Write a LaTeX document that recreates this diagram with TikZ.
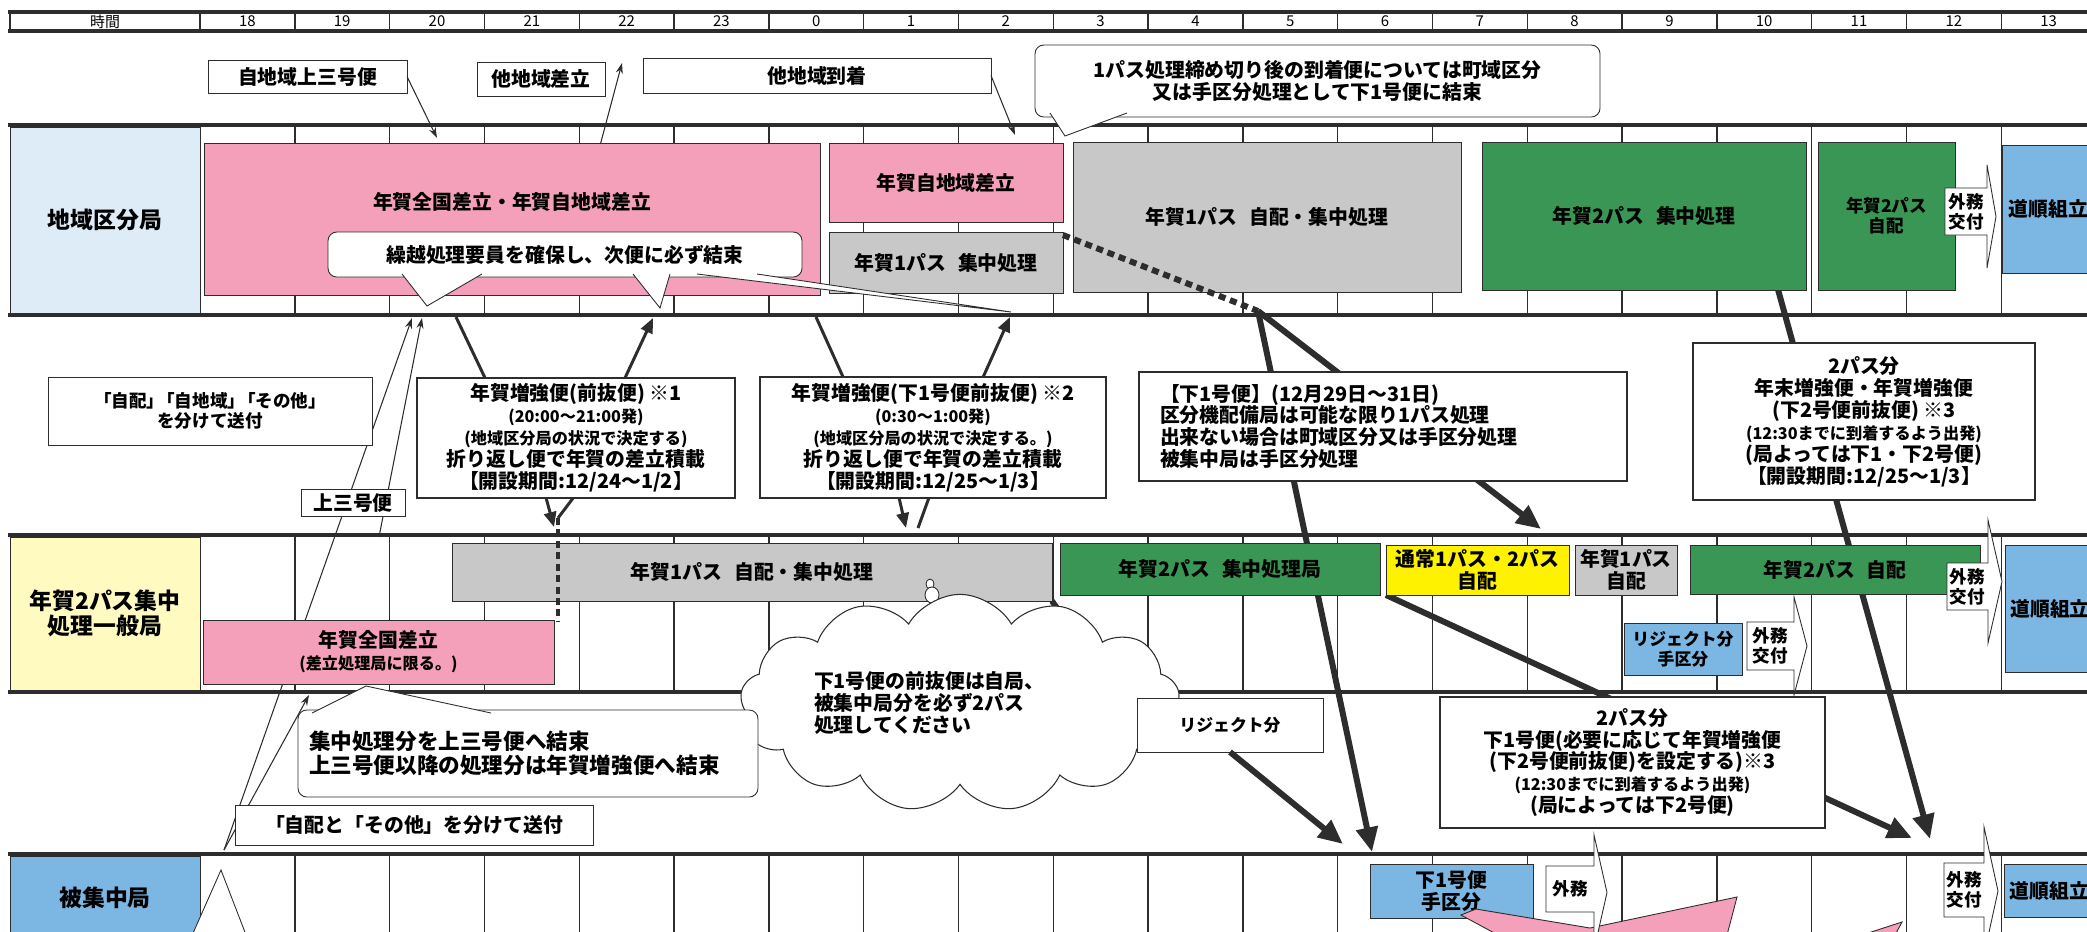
\documentclass[tikz,border=0pt]{standalone}
\usepackage{fontspec}
\setmainfont{Noto Sans CJK JP}
\usetikzlibrary{arrows.meta,calc,shapes.symbols}

\pgfdeclarelayer{back}
\pgfdeclarelayer{mid}
\pgfsetlayers{back,mid,main}

\definecolor{cPink}{RGB}{244,160,186}
\definecolor{cGray}{RGB}{200,200,200}
\definecolor{cGreen}{RGB}{58,150,84}
\definecolor{cYel}{RGB}{255,242,0}
\definecolor{cBlueL}{RGB}{222,236,248}
\definecolor{cYelL}{RGB}{255,250,192}
\definecolor{cBlue}{RGB}{124,182,226}
\definecolor{cInk}{RGB}{45,45,45}

\newcommand\szA{\fontsize{11.3}{12.5}\selectfont\bfseries}
\newcommand\szB{\fontsize{9.2}{10.5}\selectfont}
\newcommand\szC{\fontsize{13}{14.5}\selectfont\bfseries}
\newcommand\szH{\fontsize{8.5}{10}\selectfont}
\newcommand\szT{\fontsize{10}{11.5}\selectfont\bfseries}
\newcommand\szR{\fontsize{9.6}{11.5}\selectfont\bfseries}
\newcommand\szL{\fontsize{12.3}{14}\selectfont\bfseries}

% box by corners: style, name, x1, y1, x2, y2, text
\newcommand\blk[7]{\node[#1, minimum width={(#5-#3)*0.02cm}, minimum height={(#6-#4)*0.02cm}] (#2) at ({(#3+#5)/2},{(#4+#6)/2}) {#7};}

% white tag arrow: name, x1, y1, x2, y2, tip x, head top, head bottom, text
\newcommand\tagarrow[9]{%
  \filldraw[fill=white, draw=cInk, line width=0.5pt] (#2,#3) -- (#4,#3) -- (#4,#7) -- (#6,{(#7+#8)/2}) -- (#4,#8) -- (#4,#5) -- (#2,#5) -- cycle;
  \node[font=\szT, align=center, inner sep=0pt] (#1) at ({(#2+#4)/2},{(#3+#5)/2}) {#9};}

\begin{document}
\begin{tikzpicture}[x=0.02cm, y=-0.02cm, font=\szA,
    boxbase/.style={draw=cInk, line width=0.5pt, align=center, inner sep=1pt, outer sep=0pt},
    pk/.style={boxbase, fill=cPink},
    gy/.style={boxbase, fill=cGray},
    gr/.style={boxbase, fill=cGreen},
    yl/.style={boxbase, fill=cYel},
    bl/.style={boxbase, fill=cBlue},
    wbox/.style={boxbase, fill=white},
    fbox/.style={boxbase, fill=white, line width=1.4pt},
    cbox/.style={boxbase, fill=white, rounded corners=5pt},
    lab/.style={boxbase, font=\szC},
    hcell/.style={boxbase, draw=none, font=\szH},
    colline/.style={line width=0.8pt, draw=cInk},
    rowline/.style={line width=2pt, draw=cInk},
    tail/.style={fill=white, draw=cInk, line width=0.5pt},
    thinarrow/.style={line width=0.6pt, draw=cInk, -{Stealth[length=6pt,width=4pt]}},
    midline/.style={line width=1.7pt, draw=cInk},
    midarrow/.style={midline, -{Triangle[length=8.5pt,width=7pt]}},
    fatline/.style={line width=3.4pt, draw=cInk},
    fatarrow/.style={fatline, -{Triangle[length=14pt,width=12pt]}}]
\useasboundingbox (0,0) rectangle (2087,931);

\begin{pgfonlayer}{back}
\fill[white] (0,0) rectangle (2087,931);
\foreach \i in {0,...,19} {
  \pgfmathsetmacro\cx{200+94.8*\i}
  \draw[colline] (\cx,12) -- (\cx,31) (\cx,125) -- (\cx,315) (\cx,535) -- (\cx,692) (\cx,854) -- (\cx,940);
}
\draw[colline] (10,12) -- (10,31);
\foreach \y in {12,31,125,315,535,692,854}
  \draw[rowline] (8,\y) -- (2090,\y);
\end{pgfonlayer}

% header
\blk{hcell}{jikan}{10}{12}{200}{31}{時間}
\foreach \h [count=\i from 0] in {18,19,20,21,22,23,0,1,2,3,4,5,6,7,8,9,10,11,12,13}
  \node[hcell] (h\i) at ({247.4+94.8*\i},21.5) {\h};

% row labels
\blk{lab, fill=cBlueL}{r1}{10}{127}{200}{313}{地域区分局}
\blk{lab, fill=cYelL}{r2}{10}{537}{200}{690}{年賀2パス集中\\処理一般局}
\blk{lab, fill=cBlue}{r3}{10}{856}{200}{940}{被集中局}

% 地域区分局
\blk{pk}{zk}{204}{143}{820}{295}{}
\node (zkt) at (512,202) {年賀全国差立・年賀自地域差立};
\blk{pk}{jc}{829}{143}{1063}{222}{年賀自地域差立}
\blk{gy}{j1a}{829}{232}{1063}{293}{年賀1パス\hspace{.6em}集中処理}
\blk{gy}{j1b}{1073}{142}{1461}{292}{年賀1パス\hspace{.6em}自配・集中処理}
\blk{gr}{j2a}{1482}{142}{1806}{290}{年賀2パス\hspace{.6em}集中処理}
\blk{gr, font=\szT}{j2b}{1818}{142}{1955}{290}{年賀2パス\\自配}
\tagarrow{g1}{1945}{188}{1987}{235}{1996}{165}{268}{外務\\交付}
\blk{bl}{dj1}{2002}{145}{2095}{273}{道順組立}

% notes above
\blk{wbox}{jj}{208}{60}{407}{93}{自地域上三号便}
\blk{wbox}{td}{477}{62}{605}{96}{他地域差立}
\blk{wbox}{tc}{643}{58}{991}{93}{他地域到着}
\blk{cbox}{sm}{1035}{45}{1600}{117}{1パス処理締め切り後の到着便については町域区分\\又は手区分処理として下1号便に結束}
\filldraw[tail] (1050,113) -- (1065,136) -- (1127,113);
\blk{cbox}{kk}{328}{232}{802}{277}{繰越処理要員を確保し、次便に必ず結束}
\filldraw[tail] (402,274) -- (427,306) -- (482,274);
\filldraw[tail] (633,274) -- (660,308) -- (670,274);
\filldraw[tail] (697,274) -- (1011,312) -- (757,274);

% between rows
\blk{wbox, font=\szT}{bs}{48}{377}{372}{445}{「自配」\hspace{-.4em}「自地域」\hspace{-.4em}「その他」\\を分けて送付}
\blk{wbox}{k3}{301}{489}{405}{516}{上三号便}
\blk{fbox}{z1}{417}{378}{735}{498}{年賀増強便(前抜便) ※1\\{\szB (20:00～21:00発)}\\{\szB (地域区分局の状況で決定する)}\\折り返し便で年賀の差立積載\\【開設期間:12/24～1/2】}
\blk{fbox}{z2}{760}{377}{1106}{498}{年賀増強便(下1号便前抜便) ※2\\{\szB (0:30～1:00発)}\\{\szB (地域区分局の状況で決定する。)}\\折り返し便で年賀の差立積載\\【開設期間:12/25～1/3】}
\blk{fbox, text width=8.92cm, align=left}{s1}{1139}{372}{1627}{481}{【下1号便】(12月29日～31日)\\区分機配備局は可能な限り1パス処理\\出来ない場合は町域区分又は手区分処理\\被集中局は手区分処理}
\blk{fbox}{p2a}{1693}{343}{2035}{500}{2パス分\\年末増強便・年賀増強便\\(下2号便前抜便) ※3\\{\szB (12:30までに到着するよう出発)}\\(局よっては下1・下2号便)\\【開設期間:12/25～1/3】}

% 年賀2パス集中処理一般局
\blk{pk}{zk2}{203}{620}{554}{684}{年賀全国差立\\{\szB (差立処理局に限る。)}}
\blk{gy}{j1c}{452}{543}{1052}{601}{年賀1パス\hspace{.6em}自配・集中処理}
\blk{gr}{j2c}{1060}{543}{1380}{595}{年賀2パス\hspace{.6em}集中処理局}
\blk{yl}{ts}{1386}{545}{1569}{595}{通常1パス・2パス\\自配}
\blk{gy}{j1d}{1575}{545}{1677}{595}{年賀1パス\\自配}
\blk{gr}{j2d}{1690}{545}{1980}{594}{年賀2パス\hspace{.6em}自配}
\tagarrow{g2}{1947}{563}{1988}{610}{2002}{520}{643}{外務\\交付}
\blk{bl}{dj2}{2005}{545}{2095}{672}{道順組立}
\blk{bl, font=\szR}{rj}{1624}{623}{1742}{675}{リジェクト分\\手区分}
\tagarrow{g3}{1747}{622}{1794}{670}{1807}{597}{695}{外務\\交付}

% below row 2
\filldraw[fill=white, draw=cInk, line width=0.5pt] (930,584) ellipse [x radius=4, y radius=5];
\filldraw[fill=white, draw=cInk, line width=0.5pt] (932,595) ellipse [x radius=7, y radius=8];
\filldraw[fill=white, draw=cInk, line width=0.5pt] (937,613) ellipse [x radius=10, y radius=10];
\node[cloud, cloud puffs=13, cloud puff arc=120, aspect=2.64, draw=cInk, fill=white, line width=0.6pt,
  minimum width=8.44cm, minimum height=3.2cm, text width=5.84cm, align=left] (kumo) at (960,703)
  {下1号便の前抜便は自局、\\被集中局分を必ず2パス\\処理してください};
\blk{wbox, font=\szR}{rjb}{1137}{698}{1323}{752}{リジェクト分}
\blk{cbox, font=\szL, text width=8.76cm, align=left}{sk}{298}{710}{758}{797}{集中処理分を上三号便へ結束\\上三号便以降の処理分は年賀増強便へ結束}
\filldraw[tail] (312,713) -- (366,686) -- (491,713);
\blk{wbox}{bs2}{235}{805}{593}{845}{「自配と「その他」を分けて送付}
\blk{fbox}{p2b}{1440}{697}{1825}{828}{2パス分\\下1号便(必要に応じて年賀増強便\\(下2号便前抜便)を設定する)※3\\{\szB (12:30までに到着するよう出発)}\\(局によっては下2号便)}

% 被集中局
\filldraw[tail] (190,940) -- (221,870) -- (248,940);
\blk{bl}{s1t}{1370}{864}{1533}{918}{下1号便\\手区分}
\filldraw[fill=cPink, draw=cInk, line width=0.5pt] (1461,915) -- (1476,909) -- (1590,928) -- (1737,897) -- (1727,935) -- (1498,935) -- cycle;
\filldraw[fill=cPink, draw=cInk, line width=0.5pt] (1862,935) -- (1902,922) -- (1895,935) -- cycle;
\tagarrow{g4}{1546}{866}{1594}{912}{1607}{835}{950}{外務}
\tagarrow{g5}{1944}{863}{1984}{917}{1998}{827}{955}{外務\\交付}
\blk{bl}{dj3}{2004}{864}{2095}{917}{道順組立}

% free ends
\coordinate (a1) at (437,138);
\coordinate (a2) at (622,63);
\coordinate (a3) at (1015,135);
\coordinate (sA) at (224,850);
\coordinate (eA) at (412,318);
\coordinate (sB) at (379,537);
\coordinate (eB) at (422,318);
\coordinate (eC) at (309,695);
\coordinate (m1) at (456,317);
\coordinate (m2) at (653,318);
\coordinate (m3) at (554,527);
\coordinate (m4) at (558,518);
\coordinate (m9) at (558,621);
\coordinate (m5) at (816,317);
\coordinate (m6) at (1010,317);
\coordinate (m7) at (906,528);
\coordinate (m8) at (918,528);
\coordinate (d1) at (1258,311);
\coordinate (f1) at (1372,852);
\coordinate (f2) at (1541,529);
\coordinate (f3) at (1930,839);
\coordinate (f4) at (1912,838);
\coordinate (f5) at (1343,844);

% connectors behind the boxes
\begin{pgfonlayer}{mid}
\draw[thinarrow] (sA) -- (eA);
\draw[thinarrow] (sB) -- (eB);
\draw[thinarrow] (sA) -- (eC);
\draw[fatarrow] (d1) -- (f1);
\draw[fatarrow] (d1) -- (f2);
\draw[fatarrow] ($(j2a.south west)!0.914!(j2a.south east)$) -- (f3);
\draw[fatarrow] (ts.south west) -- (f4);
\draw[fatline] (j1c.south east) -- (rjb.west);
\end{pgfonlayer}

% connectors on top
\draw[thinarrow] (jj.east) -- (a1);
\draw[thinarrow] ($(zk.north west)!0.644!(zk.north east)$) -- (a2);
\draw[thinarrow] (tc.east) -- (a3);
\draw[midline] (m1) -- ($(z1.north west)!0.214!(z1.north east)$);
\draw[midarrow] ($(z1.north west)!0.654!(z1.north east)$) -- (m2);
\draw[midarrow] ($(z1.south west)!0.406!(z1.south east)$) -- (m3);
\draw[midline] (m4) -- ($(z1.south west)!0.491!(z1.south east)$);
\draw[line width=2.2pt, draw=cInk, dash pattern=on 4pt off 2.5pt] (m4) -- (m9);
\draw[midline] (m5) -- ($(z2.north west)!0.240!(z2.north east)$);
\draw[midarrow] ($(z2.north west)!0.645!(z2.north east)$) -- (m6);
\draw[midarrow] ($(z2.south west)!0.402!(z2.south east)$) -- (m7);
\draw[midline] (m8) -- ($(z2.south west)!0.488!(z2.south east)$);
\draw[fatline, dash pattern=on 4pt off 2.8pt] ($(j1a.north east)!0.05!(j1a.south east)$) -- (d1);
\draw[fatarrow] (rjb.south) -- (f5);
\end{tikzpicture}
\end{document}
